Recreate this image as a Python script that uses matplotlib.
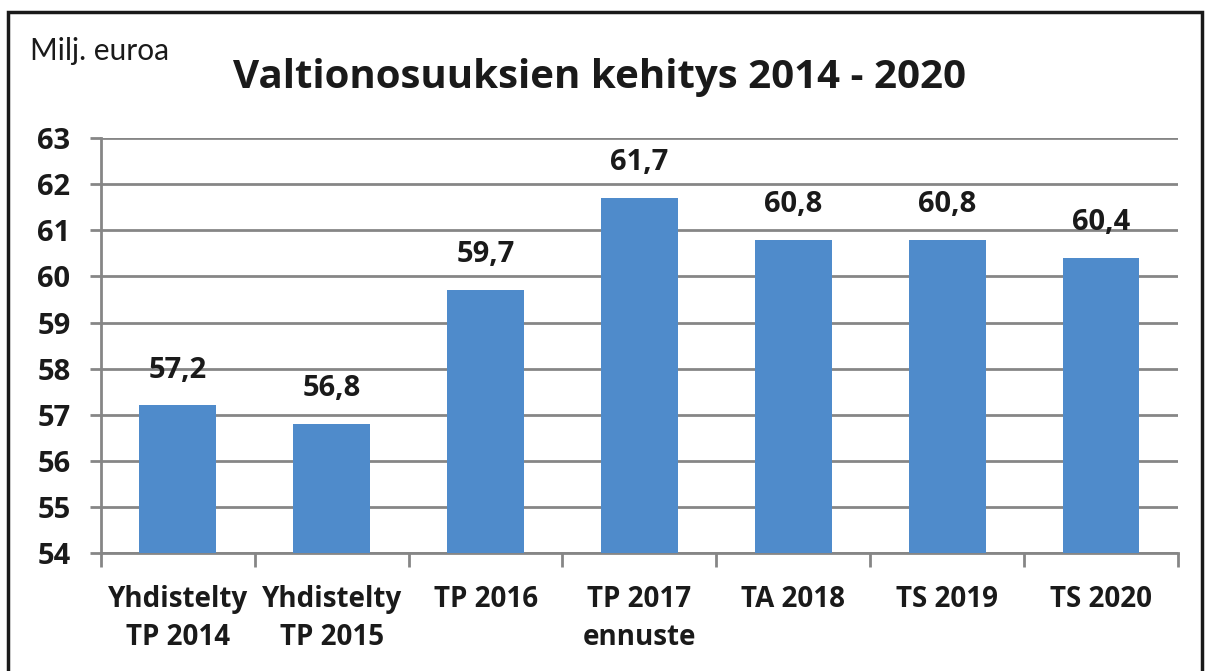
import numpy as np
import matplotlib.pyplot as plt
from matplotlib.patches import Rectangle

# Valtionosuuksien kehitys 2014 - 2020

categories = ['Yhdistelty\nTP 2014', 'Yhdistelty\nTP 2015', 'TP 2016',
              'TP 2017\nennuste', 'TA 2018', 'TS 2019', 'TS 2020']
values = [57.2, 56.8, 59.7, 61.7, 60.8, 60.8, 60.4]
value_labels = ['57,2', '56,8', '59,7', '61,7', '60,8', '60,8', '60,4']
yticks = [54, 55, 56, 57, 58, 59, 60, 61, 62, 63]

font = ['Open Sans', 'DejaVu Sans']
grid_col = '#868686'
txt_col = '#1a1a1a'

fig = plt.figure(figsize=(12.06, 6.71), dpi=100)
ax = fig.add_axes([0.0837, 0.176, 0.893, 0.618])

x = np.arange(len(categories))
ax.bar(x, values, width=0.5, bottom=0, color='#4F8BCB', zorder=3)
ax.set_ylim(54, 63)
ax.set_xlim(-0.5, len(categories) - 0.5)

for xi, v, lab in zip(x, values, value_labels):
    ax.annotate(lab, (xi, v), xytext=(0, 15), textcoords='offset points',
                ha='center', va='bottom', fontsize=21, fontweight='bold',
                family=font, color=txt_col)

ax.set_yticks(yticks)
ax.set_yticklabels([str(t) for t in yticks], fontsize=21, fontweight='bold',
                   family=font, color=txt_col)
ax.yaxis.grid(True, color=grid_col, lw=2, zorder=0)
ax.tick_params(axis='y', length=8, width=2, color=grid_col, pad=14)

# category ticks sit between bars
ax.set_xticks(np.arange(len(categories) + 1) - 0.5)
ax.set_xticklabels([])
ax.set_xticks(x, minor=True)
ax.set_xticklabels(categories, minor=True, fontsize=20, fontweight='bold',
                   family=font, color=txt_col, linespacing=1.4)
ax.tick_params(axis='x', which='major', length=10, width=2, color=grid_col)
ax.tick_params(axis='x', which='minor', length=0, pad=23)

for s in ['top', 'right']:
    ax.spines[s].set_visible(False)
for s in ['left', 'bottom']:
    ax.spines[s].set_color(grid_col)
    ax.spines[s].set_linewidth(2)

fig.text(0.497, 0.885, 'Valtionosuuksien kehitys 2014 - 2020', ha='center',
         va='center', fontsize=29, fontweight='bold', family=font, color=txt_col)
fig.text(0.025, 0.924, 'Milj. euroa', ha='left', va='center', fontsize=21.5,
         family=['Lato', 'DejaVu Sans'], color=txt_col)

# frame around the chart
fig.patches.append(Rectangle((0.007, -0.02), 0.99, 1.002, transform=fig.transFigure,
                             fill=False, edgecolor=txt_col, lw=2.5))

fig.savefig('out.png', dpi=100)
